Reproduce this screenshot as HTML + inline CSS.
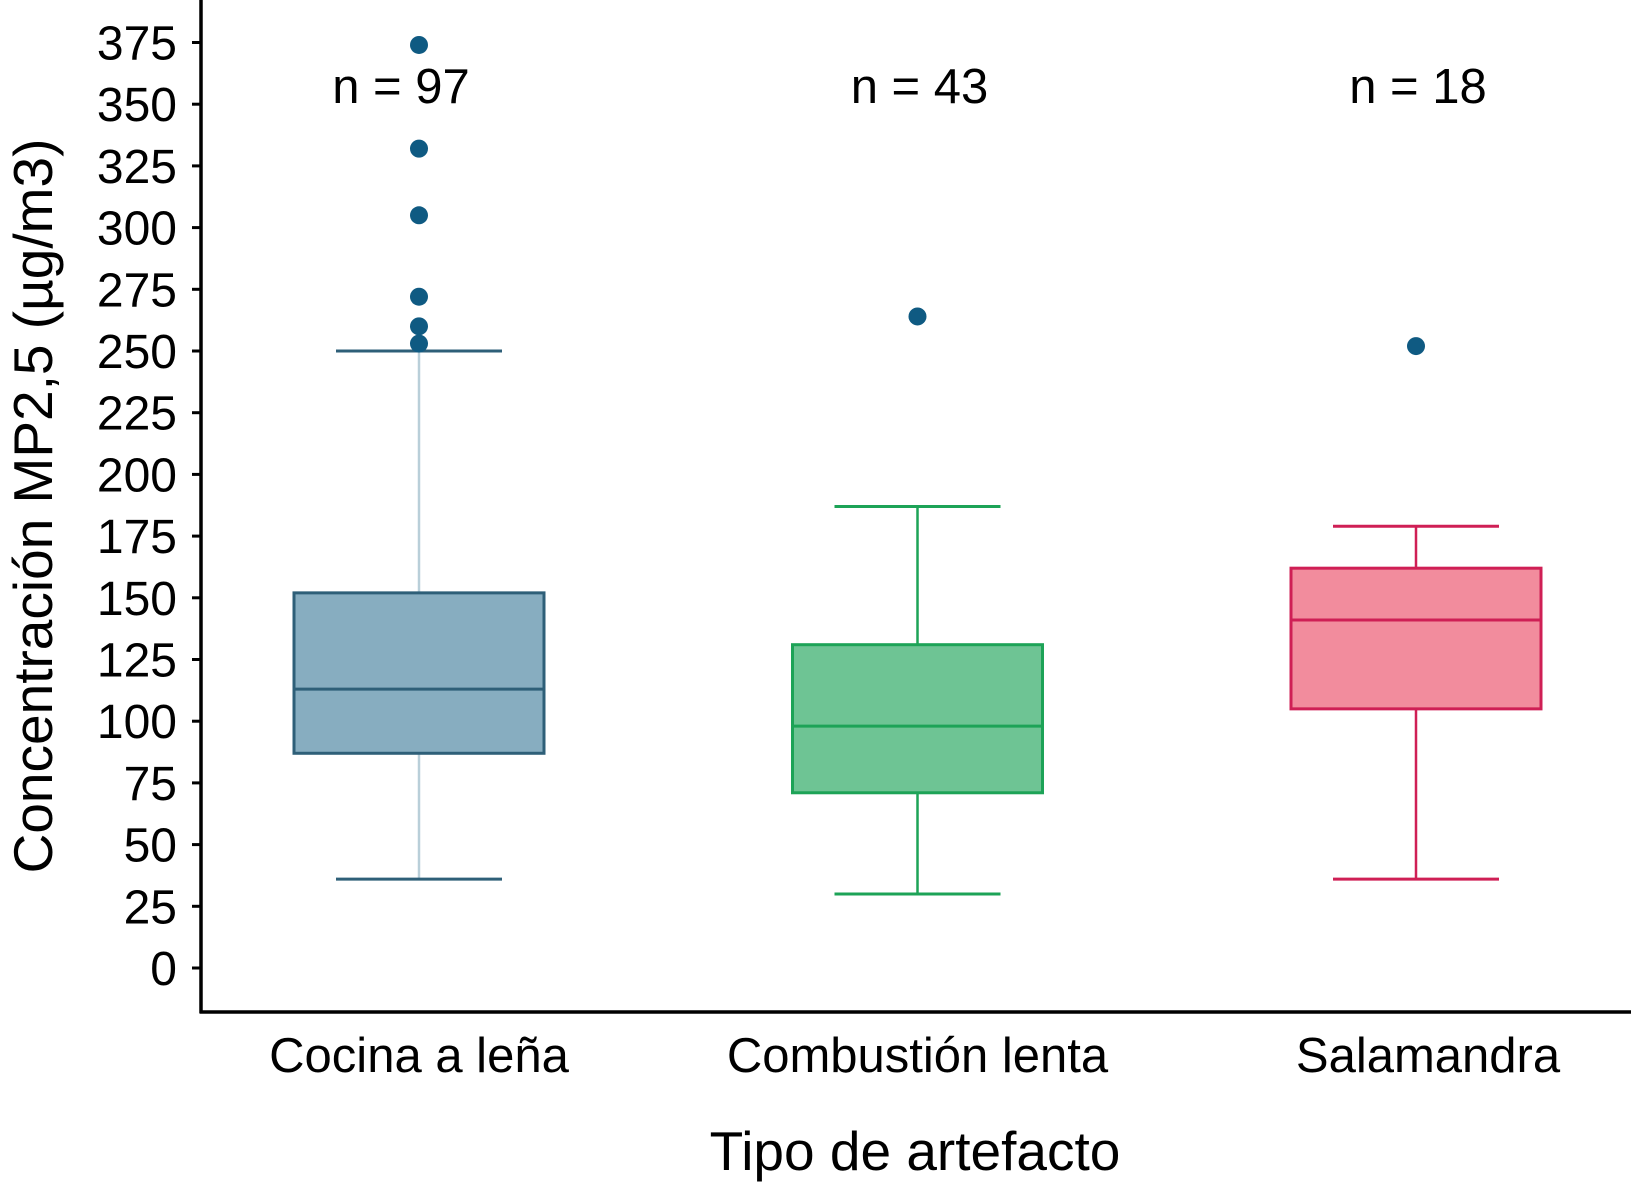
<!DOCTYPE html>
<html><head><meta charset="utf-8"><style>
html,body{margin:0;padding:0;background:#fff;}
svg{display:block;font-family:"Liberation Sans",Arial,sans-serif;}
</style></head><body>
<svg id="chart" width="1631" height="1183" viewBox="0 0 1631 1183">
<g id="axes"></g><g id="plot"></g>
</svg>
<script>
const categories=["Cocina a leña","Combustión lenta","Salamandra"];
const counts=["n = 97","n = 43","n = 18"];
const whiskLow=[36,30,36];
const q1=[87,71,105];
const medians=[113,98,141];
const q3=[152,131,162];
const whiskHigh=[250,187,179];
const outliers=[[374,332,305,272,260,253],[264],[252]];
const yTicks=[0,25,50,75,100,125,150,175,200,225,250,275,300,325,350,375];
const fills=["#87adc0","#6ec494","#f28c9d"];
const strokes=["#2e5f78","#1da357","#cf1f55"];
const whiskCols=["#b9cfd9","#1da357","#cf1f55"];
const countDx=[-18,2,2];
const catDx=[0,0,12];
const NS="http://www.w3.org/2000/svg";
const y=v=>968-v*2.468;
const x=i=>419+i*498.5;
function mk(tag,attrs,parent,txt){const e=document.createElementNS(NS,tag);for(const k in attrs)e.setAttribute(k,attrs[k]);if(txt!==undefined)e.textContent=txt;parent.appendChild(e);return e;}
const axes=document.getElementById('axes'),plot=document.getElementById('plot');
let e=mk('line',{x1:201,y1:0,x2:201,y2:1013,stroke:'#000','stroke-width':3.5},axes);

e=mk('line',{x1:199.5,y1:1012,x2:1631,y2:1012,stroke:'#000','stroke-width':3.5},axes);

yTicks.forEach(t=>{
  e=mk('line',{x1:192,y1:y(t),x2:201,y2:y(t),stroke:'#000','stroke-width':3},axes);
  
  e=mk('text',{x:177,y:y(t)+17,'text-anchor':'end','font-size':48,fill:'#000'},axes,String(t));
  
});
e=mk('text',{x:0,y:0,transform:'translate(52,506) rotate(-90)','text-anchor':'middle','font-size':55,fill:'#000'},axes,'Concentración MP2,5 (µg/m3)');

e=mk('text',{x:915,y:1170,'text-anchor':'middle','font-size':55,fill:'#000'},axes,'Tipo de artefacto');

categories.forEach((c,i)=>{
  const cx=x(i),bw=250,cw=166;
  e=mk('text',{x:cx+catDx[i],y:1072,'text-anchor':'middle','font-size':49,fill:'#000'},axes,c);
  
  e=mk('text',{x:cx+countDx[i],y:103,'text-anchor':'middle','font-size':49,fill:'#000'},plot,counts[i]);
  
  e=mk('line',{x1:cx,y1:y(whiskHigh[i]),x2:cx,y2:y(whiskLow[i]),stroke:whiskCols[i],'stroke-width':2.5},plot);
  
  [whiskHigh[i],whiskLow[i]].forEach(v=>{
    e=mk('line',{x1:cx-cw/2,y1:y(v),x2:cx+cw/2,y2:y(v),stroke:strokes[i],'stroke-width':3},plot);
    
  });
  e=mk('rect',{x:cx-bw/2,y:y(q3[i]),width:bw,height:y(q1[i])-y(q3[i]),fill:fills[i],stroke:strokes[i],'stroke-width':3},plot);
  
  e=mk('line',{x1:cx-bw/2,y1:y(medians[i]),x2:cx+bw/2,y2:y(medians[i]),stroke:strokes[i],'stroke-width':3},plot);
  
  outliers[i].forEach(v=>{
    e=mk('circle',{cx:cx,cy:y(v),r:9,fill:'#0f5a82'},plot);
    
  });
});
</script>
</body></html>
